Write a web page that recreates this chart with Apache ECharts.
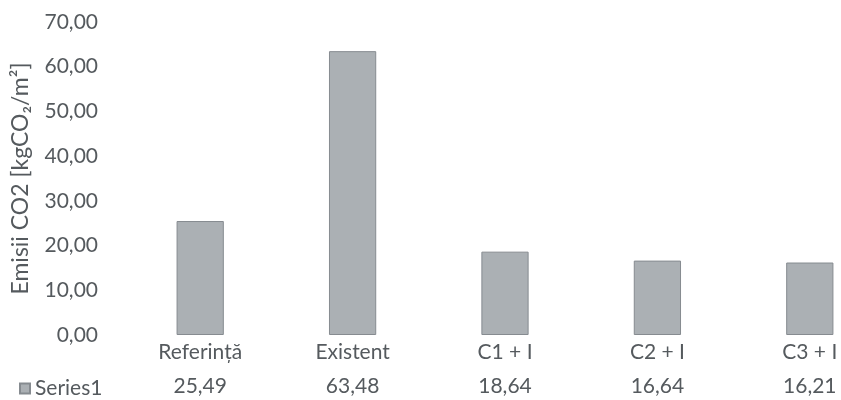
<!DOCTYPE html>
<html>
<head>
<meta charset="utf-8">
<script src="https://cdn.jsdelivr.net/npm/echarts@6/dist/echarts.min.js"></script>
<style>
  html, body { margin: 0; padding: 0; background: #fff; }
  #chart { width: 841px; height: 400px; }
</style>
</head>
<body>
<div id="chart"></div>
<script>
// Emisii CO2 per scenariu
const categories = ['Referință', 'Existent', 'C1 + I', 'C2 + I', 'C3 + I'];
const series1 = [25.49, 63.48, 18.64, 16.64, 16.21];
const yTicks = { min: 0, max: 70, interval: 10 };

const fmt = v => v.toFixed(2).replace('.', ',');
const FONT = 'Lato, "Open Sans", sans-serif';
const TXT = '#555a5e';

const chart = echarts.init(document.getElementById('chart'));
chart.setOption({
  animation: false,
  backgroundColor: '#ffffff',
  textStyle: { fontFamily: FONT },
  legend: {
    left: 14, top: 373,
    icon: 'rect', itemWidth: 10, itemHeight: 10, itemGap: 8,
    textStyle: { fontSize: 21, color: TXT, fontFamily: FONT },
    data: ['Series1']
  },
  grid: {
    left: 124, width: 762, top: 22, bottom: 65,
    containLabel: false, outerBoundsMode: 'none'
  },
  xAxis: [{
    type: 'category',
    data: categories,
    axisLine: { show: false },
    axisTick: { show: false },
    axisLabel: { fontSize: 21, color: TXT, margin: 7, fontFamily: FONT }
  }, {
    type: 'category',
    position: 'bottom',
    offset: 34,
    data: series1.map(fmt),
    axisLine: { show: false },
    axisTick: { show: false },
    axisLabel: { fontSize: 21, color: TXT, margin: 7, fontFamily: FONT }
  }],
  yAxis: {
    type: 'value',
    min: yTicks.min, max: yTicks.max, interval: yTicks.interval,
    splitLine: { show: false },
    axisLine: { show: false },
    axisTick: { show: false },
    axisLabel: { fontSize: 21, color: TXT, margin: 26, formatter: fmt, fontFamily: FONT },
    name: 'Emisii CO2 [kgCO₂/m²]',
    nameLocation: 'middle',
    nameGap: 92,
    nameRotate: 90,
    nameTextStyle: { fontSize: 23, color: TXT, fontFamily: FONT }
  },
  series: [{
    name: 'Series1',
    type: 'bar',
    data: series1,
    barWidth: '31%',
    itemStyle: { color: '#abb0b4', borderColor: '#868b90', borderWidth: 1 }
  }]
});
</script>
</body>
</html>
